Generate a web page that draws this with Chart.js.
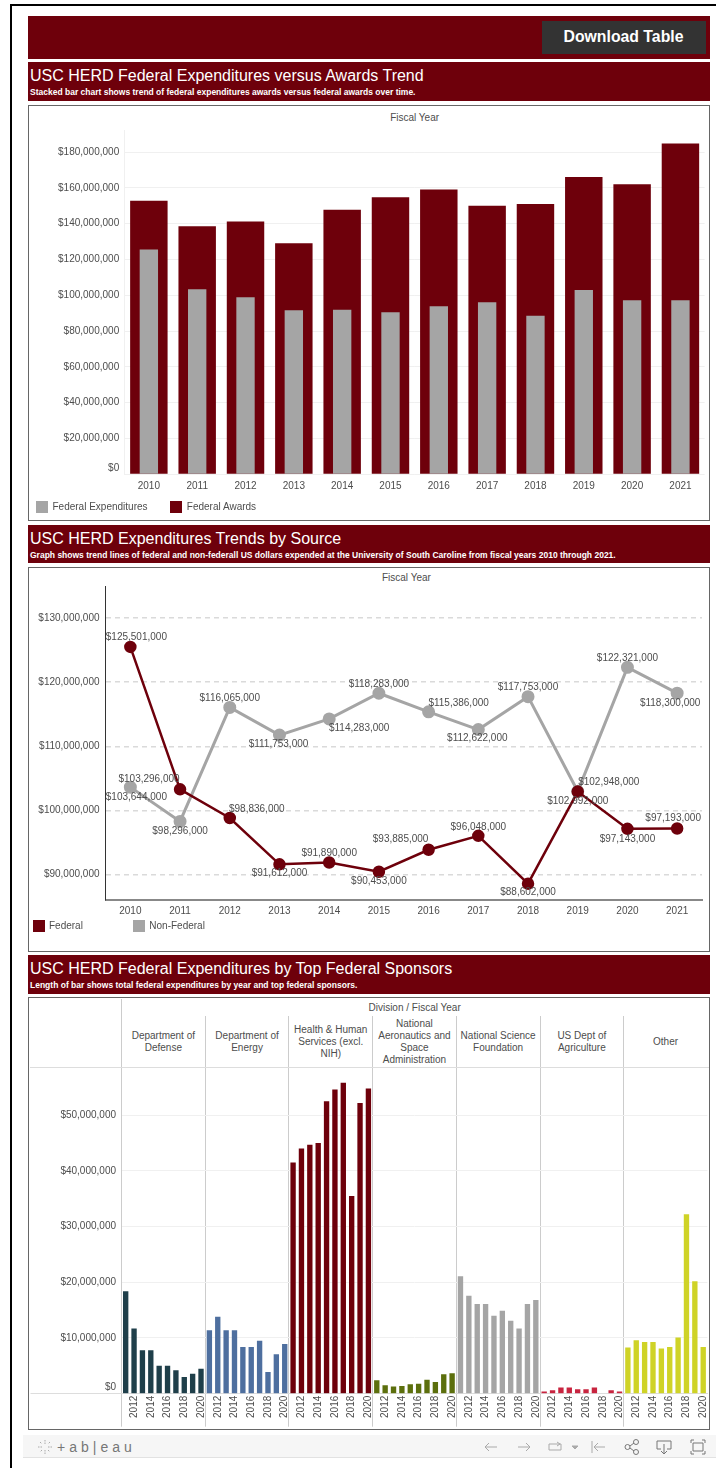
<!DOCTYPE html>
<html>
<head>
<meta charset="utf-8">
<title>USC HERD Federal Expenditures</title>
<script src="https://cdn.jsdelivr.net/npm/chart.js@4"></script>
<style>
  html, body { margin: 0; padding: 0; background: #fff; }
  body { position: relative; width: 716px; height: 1468px; overflow: hidden; font-family: "Liberation Sans", Arial, sans-serif; color: #4d4d4d; }
  .abs { position: absolute; }
  .frame-top { left: 10px; top: 3.5px; width: 706px; height: 2px; background: #000; }
  .frame-left { left: 9.5px; top: 3.5px; width: 2.5px; height: 1465px; background: #000; }
  .banner { left: 28px; width: 682px; background: #6e000b; color: #fff; }
  .banner .title { position: absolute; left: 2px; top: 4px; font-size: 16px; line-height: 20px; white-space: nowrap; }
  .banner .sub { position: absolute; left: 2px; top: 25px; font-size: 8.5px; line-height: 10px; font-weight: bold; white-space: nowrap; }
  .button { left: 541.5px; top: 21px; width: 164px; height: 33px; background: #333; color: #fff; font-weight: bold; font-size: 15.8px; line-height: 32px; text-align: center; }
  .panel { left: 28px; width: 680px; border: 1.5px solid #666; background: #fff; }
  canvas { position: absolute; left: 28px; }
  .label { font-size: 10px; line-height: 12px; white-space: nowrap; }
  .center { transform: translateX(-50%); text-align: center; }
  .swatch { width: 12px; height: 12px; }
  .hline { background: #ddd; height: 1px; }
  .vline { background: #ccc; width: 1px; }
  .toolbar { left: 23px; top: 1435px; width: 693px; height: 22px; background: #f6f6f6; border-bottom: 1px solid #e2e2e2; }
  .brand { left: 57px; top: 1438px; font-size: 14px; line-height: 18px; letter-spacing: 4px; color: #777; white-space: nowrap; }
  svg.icon { position: absolute; top: 1439px; fill: none; stroke: #aaa; stroke-width: 1; }
  svg.dark { stroke: #777; }
</style>
</head>
<body>
<div class="abs frame-top"></div>
<div class="abs frame-left"></div>

<div class="abs banner" style="top:15.5px;height:43.5px"></div>
<div class="abs button">Download Table</div>

<div class="abs banner" style="top:62px;height:39px">
  <div class="title">USC HERD Federal Expenditures versus Awards Trend</div>
  <div class="sub">Stacked bar chart shows trend of federal expenditures awards versus federal awards over time.</div>
</div>
<div class="abs panel" style="top:104.5px;height:414px"></div>
<div class="abs label center" style="left:414.6px;top:112px">Fiscal Year</div>
<canvas id="awardsChart" width="682" height="415" style="top:105px"></canvas>
<div class="abs swatch" style="left:36px;top:501px;background:#a5a5a5"></div>
<div class="abs label" style="left:52.5px;top:500.5px">Federal Expenditures</div>
<div class="abs swatch" style="left:170px;top:501px;background:#6e000b"></div>
<div class="abs label" style="left:186.8px;top:500.5px">Federal Awards</div>

<div class="abs banner" style="top:524.5px;height:38.5px">
  <div class="title">USC HERD Expenditures Trends by Source</div>
  <div class="sub">Graph shows trend lines of federal and non-federall US dollars expended at the University of South Caroline from fiscal years 2010 through 2021.</div>
</div>
<div class="abs panel" style="top:566.5px;height:383px"></div>
<div class="abs label center" style="left:406.4px;top:571.5px">Fiscal Year</div>
<canvas id="sourceChart" width="682" height="384" style="top:567px"></canvas>
<div class="abs swatch" style="left:33px;top:920px;background:#6e000b"></div>
<div class="abs label" style="left:49px;top:920px">Federal</div>
<div class="abs swatch" style="left:133px;top:920px;background:#a5a5a5"></div>
<div class="abs label" style="left:149.3px;top:920px">Non-Federal</div>

<div class="abs banner" style="top:955px;height:39px">
  <div class="title">USC HERD Federal Expenditures by Top Federal Sponsors</div>
  <div class="sub">Length of bar shows total federal expenditures by year and top federal sponsors.</div>
</div>
<div class="abs panel" style="top:997px;height:431px"></div>
<div class="abs label center" style="left:414.6px;top:1002px">Division / Fiscal Year</div>
<div class="abs vline" style="left:121px;top:999px;height:68px"></div>
<div id="divisionHead"></div>
<div class="abs hline" style="left:30px;top:1067px;width:679px"></div>
<canvas id="sponsorChart" width="682" height="363" style="top:1067px"></canvas>

<div class="abs toolbar"></div>
<svg class="icon" style="left:37px" width="16" height="16" viewBox="0 0 16 16"><path d="M8 1v4M8 11v4M1 8h4M11 8h4M3 3l2 2M11 11l2 2M13 3l-2 2M5 11l-2 2" stroke-dasharray="1.5 1"/></svg>
<div class="abs brand">+ab|eau</div>
<svg class="icon" style="left:483px" width="16" height="16" viewBox="0 0 16 16"><path d="M14 8H2M6 4L2 8l4 4"/></svg>
<svg class="icon" style="left:516px" width="16" height="16" viewBox="0 0 16 16"><path d="M2 8h12M10 4l4 4-4 4"/></svg>
<svg class="icon" style="left:547px" width="16" height="16" viewBox="0 0 16 16"><path d="M2 5h12v6H2zM10 3l3 2-3 2"/></svg>
<svg class="icon" style="left:570px" width="10" height="16" viewBox="0 0 10 16"><path d="M2 7h6l-3 3z" fill="#aaa"/></svg>
<svg class="icon" style="left:590px" width="16" height="16" viewBox="0 0 16 16"><path d="M2 2v12M15 8H4M8 4L4 8l4 4"/></svg>
<svg class="icon dark" style="left:624px" width="16" height="16" viewBox="0 0 16 16"><circle cx="3.5" cy="8" r="2.5"/><circle cx="12" cy="3" r="2.5"/><circle cx="12" cy="13" r="2.5"/><path d="M6 7l4-3M6 9l4 3"/></svg>
<svg class="icon dark" style="left:656px" width="16" height="16" viewBox="0 0 16 16"><path d="M5 10H1V2h14v8h-4M8 5v10M5 12l3 3 3-3"/></svg>
<svg class="icon dark" style="left:690px" width="16" height="16" viewBox="0 0 16 16"><path d="M1 4V1h3M12 1h3v3M15 12v3h-3M4 15H1v-3M3 4h10v8H3z"/></svg>

<script>
/* ====== DATA ====== */
const fiscalYears = ["2010","2011","2012","2013","2014","2015","2016","2017","2018","2019","2020","2021"];
const federalAwards = [152800000,138500000,141200000,129000000,147800000,154700000,159000000,150000000,151000000,166000000,162000000,184800000];
const federalSpend = [125501000,103296000,98836000,91612000,91890000,90453000,93885000,96048000,88602000,102948000,97143000,97193000];
const nonFederalSpend = [103644000,98296000,116065000,111753000,114283000,118283000,115386000,112622000,117753000,102992000,122321000,118300000];
const awardsTicks = [0,20000000,40000000,60000000,80000000,100000000,120000000,140000000,160000000,180000000];
const sourceTicks = [90000000,100000000,110000000,120000000,130000000];
const sponsorTicks = [0,10000000,20000000,30000000,40000000,50000000];

const sponsorYears = ["2011","2012","2013","2014","2015","2016","2017","2018","2019","2020"];
const divisionNames = [
  ["Department of","Defense"],
  ["Department of","Energy"],
  ["Health & Human","Services (excl.","NIH)"],
  ["National","Aeronautics and","Space","Administration"],
  ["National Science","Foundation"],
  ["US Dept of","Agriculture"],
  ["Other"]
];
const defense = [18.4,11.7,7.8,7.8,5.0,5.0,4.2,3.0,3.6,4.5];
const energy = [11.4,13.8,11.4,11.4,8.4,8.4,9.5,3.9,7.1,8.9];
const hhs = [41.5,44.0,44.7,45.0,52.5,54.6,55.8,35.5,52.2,54.8];
const nasa = [2.4,1.5,1.3,1.4,1.7,1.8,2.5,2.1,3.5,3.65];
const nsf = [21.1,17.6,16.1,16.1,14.0,14.9,13.1,11.7,16.1,16.8];
const usda = [0.4,0.6,1.1,1.1,0.8,0.8,1.1,0.1,0.6,0.4];
const other = [8.3,9.6,9.3,9.3,8.1,8.4,10.1,32.2,20.2,8.4];
const divisionColors = ["#1f3f4a","#4e6f9f","#6e000b","#5c6f0d","#a5a5a5","#c8243f","#cfd327"];

/* where each value label sits relative to its point (px) */
const federalShiftX = [6,-31,27,0,0,0,-28,0,0,31,0,-4];
const federalShiftY = [-10,-10,-9,9,-9,9,-10,-9,9,-9,10,-10];
const nonFederalShiftX = [6,0,0,-1,30,0,30,-1,0,0,0,-7];
const nonFederalShiftY = [10,9.5,-9,9.5,9,-9,-9,9,-9,9.5,-9,10];

/* ====== HELPERS ====== */
const MAROON = "#6e000b";
const GREY = "#a5a5a5";
const TEXT = "#4d4d4d";
const FONT = { family: "'Liberation Sans', Arial, sans-serif", size: 10 };

function formatUSD(v) {
  return "$" + Number(v).toLocaleString("en-US");
}
// the $0 label sits a little above its gridline, a blank second line does that
function usdTick(v) {
  return v === 0 ? ["$0", ""] : formatUSD(v);
}
function fixedTicks(list) {
  return scale => { scale.ticks = list.map(value => ({ value })); };
}

Chart.defaults.animation = false;
Chart.defaults.responsive = false;
Chart.defaults.color = TEXT;
Chart.defaults.font = FONT;

/* ====== CHART 1: awards vs expenditures ====== */
new Chart(document.getElementById("awardsChart"), {
  type: "bar",
  data: {
    labels: fiscalYears,
    datasets: [
      { label: "Federal Expenditures", data: federalSpend, backgroundColor: GREY, grouped: false, order: 1, barPercentage: 0.38, categoryPercentage: 1 },
      { label: "Federal Awards", data: federalAwards, backgroundColor: MAROON, grouped: false, order: 2, barPercentage: 0.775, categoryPercentage: 1 }
    ]
  },
  options: {
    layout: { padding: { top: 25, right: 5.4, left: 0, bottom: 0 } },
    plugins: { legend: { display: false }, tooltip: { enabled: false } },
    scales: {
      x: {
        grid: { display: false, drawTicks: false },
        border: { display: false },
        ticks: { padding: 6, maxRotation: 0, autoSkip: false },
        afterFit: s => { s.height = 45.7; }
      },
      y: {
        min: 0,
        max: 192300000,
        afterBuildTicks: fixedTicks(awardsTicks),
        grid: { color: "#f0f0f0", drawTicks: false },
        border: { color: "#f0f0f0" },
        ticks: { padding: 5.5, callback: usdTick },
        afterFit: s => { s.width = 96.7; }
      }
    }
  }
});

/* ====== CHART 2: federal vs non-federal ====== */
const pointLabels = {
  id: "pointLabels",
  afterDatasetsDraw(chart) {
    const ctx = chart.ctx;
    const shifts = [[federalShiftX, federalShiftY], [nonFederalShiftX, nonFederalShiftY]];
    ctx.save();
    ctx.font = "10px 'Liberation Sans', Arial, sans-serif";
    ctx.fillStyle = TEXT;
    ctx.textAlign = "center";
    ctx.textBaseline = "middle";
    chart.data.datasets.forEach((ds, d) => {
      chart.getDatasetMeta(d).data.forEach((pt, i) => {
        ctx.fillText(formatUSD(ds.data[i]), pt.x + shifts[d][0][i], pt.y + shifts[d][1][i]);
      });
    });
    ctx.restore();
  }
};

new Chart(document.getElementById("sourceChart"), {
  type: "line",
  data: {
    labels: fiscalYears,
    datasets: [
      { label: "Federal", data: federalSpend, borderColor: MAROON, backgroundColor: MAROON, borderWidth: 2.5, pointRadius: 5, tension: 0 },
      { label: "Non-Federal", data: nonFederalSpend, borderColor: GREY, backgroundColor: GREY, borderWidth: 3, pointRadius: 5, tension: 0 }
    ]
  },
  options: {
    layout: { padding: { top: 19, right: 2.7, left: 0, bottom: 0 } },
    plugins: { legend: { display: false }, tooltip: { enabled: false } },
    scales: {
      x: {
        offset: true,
        grid: { display: false, drawTicks: false },
        border: { color: "#888", width: 2 },
        ticks: { padding: 5, maxRotation: 0, autoSkip: false },
        afterFit: s => { s.height = 51; }
      },
      y: {
        min: 86050000,
        max: 135000000,
        afterBuildTicks: fixedTicks(sourceTicks),
        grid: { color: "#dadada", drawTicks: false, lineWidth: 1.5 },
        border: { color: "#333", dash: [5, 4] },
        ticks: { padding: 6, callback: usdTick },
        afterFit: s => { s.width = 77.5; }
      }
    }
  },
  plugins: [pointLabels]
});

/* ====== CHART 3: sponsors, one category per division/year ====== */
const sponsorSeries = [defense, energy, hhs, nasa, nsf, usda, other];
const sponsorLabels = sponsorSeries.flatMap(() => sponsorYears);
const sponsorValues = sponsorSeries.flat().map(v => v * 1000000);
const sponsorColors = sponsorSeries.flatMap((s, i) => s.map(() => divisionColors[i]));

new Chart(document.getElementById("sponsorChart"), {
  type: "bar",
  data: {
    labels: sponsorLabels,
    datasets: [{ data: sponsorValues, backgroundColor: sponsorColors, barPercentage: 0.64, categoryPercentage: 1 }]
  },
  options: {
    layout: { padding: { top: 1, right: 2.6, left: 0, bottom: 0 } },
    plugins: { legend: { display: false }, tooltip: { enabled: false } },
    scales: {
      x: {
        grid: {
          offset: true,
          tickLength: 33,
          color: c => (c.index % 10 === 0 ? "#ccc" : "transparent"),
          tickColor: c => (c.index % 10 === 0 ? "#ccc" : "transparent")
        },
        border: { color: "#ddd" },
        ticks: {
          padding: -31,
          minRotation: 90,
          maxRotation: 90,
          autoSkip: false,
          callback: (v, i) => (i % 2 === 1 ? sponsorLabels[i] : "")
        },
        afterFit: s => { s.height = 36.3; }
      },
      y: {
        min: 0,
        max: 58470000,
        afterBuildTicks: fixedTicks(sponsorTicks),
        grid: {
          color: "#f0f0f0",
          tickLength: 91,
          tickColor: c => (c.tick && c.tick.value === 0 ? "#ddd" : "transparent")
        },
        border: { display: false },
        ticks: { padding: -85.5, callback: usdTick },
        afterFit: s => { s.width = 93.5; }
      }
    }
  }
});

/* ====== division headers ====== */
const head = document.getElementById("divisionHead");
divisionNames.forEach((lines, i) => {
  const left = 121.5 + i * 83.7;
  const box = document.createElement("div");
  box.className = "abs label center";
  box.style.left = (left + 41.85) + "px";
  box.style.top = (1041.5 - lines.length * 6) + "px";
  box.innerHTML = lines.map(l => l.replace("&", "&amp;")).join("<br>");
  head.appendChild(box);
  if (i > 0) {
    const line = document.createElement("div");
    line.className = "abs vline";
    line.style.left = (left - 0.5) + "px";
    line.style.top = "1016px";
    line.style.height = "51px";
    head.appendChild(line);
  }
});
</script>
</body>
</html>
